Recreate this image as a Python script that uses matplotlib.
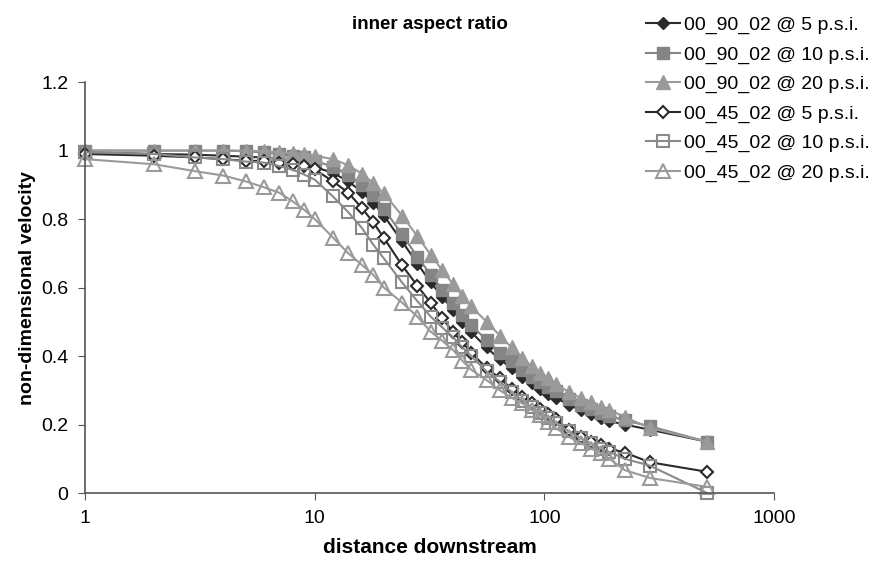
import matplotlib
matplotlib.use('Agg')
import matplotlib.pyplot as plt
from matplotlib.ticker import FixedLocator, NullLocator

plt.rcParams['font.family'] = ['Liberation Sans', 'DejaVu Sans']

# distance downstream (shared by all series)
x = [1, 2, 3, 4, 5, 6, 7, 8, 9, 10, 12, 14, 16, 18, 20, 24, 28, 32, 36, 40, 44, 48,
     56, 64, 72, 80, 88, 96, 104, 112, 128, 144, 160, 176, 192, 224, 288, 512]

v90_5 = [0.995, 0.99, 0.988, 0.985, 0.982, 0.98, 0.975, 0.97, 0.962, 0.952, 0.935, 0.91,
         0.88, 0.848, 0.81, 0.735, 0.67, 0.615, 0.572, 0.535, 0.5, 0.47,
         0.425, 0.39, 0.365, 0.34, 0.32, 0.305, 0.29, 0.278, 0.258, 0.242, 0.23, 0.22,
         0.21, 0.2, 0.185, 0.15]
v90_10 = [1.0, 1.0, 1.0, 1.0, 0.998, 0.995, 0.99, 0.985, 0.98, 0.97, 0.953, 0.93,
          0.9, 0.87, 0.83, 0.755, 0.69, 0.637, 0.594, 0.556, 0.52, 0.49,
          0.447, 0.41, 0.385, 0.36, 0.34, 0.325, 0.31, 0.297, 0.275, 0.258, 0.245, 0.235,
          0.225, 0.212, 0.195, 0.15]
v90_20 = [1.0, 1.0, 1.0, 1.0, 1.0, 0.998, 0.995, 0.992, 0.99, 0.985, 0.975, 0.957,
          0.933, 0.905, 0.875, 0.81, 0.75, 0.695, 0.65, 0.61, 0.575, 0.545,
          0.5, 0.46, 0.425, 0.395, 0.37, 0.35, 0.335, 0.318, 0.295, 0.278, 0.265, 0.252,
          0.243, 0.222, 0.19, 0.15]
v45_5 = [0.99, 0.985, 0.98, 0.975, 0.97, 0.97, 0.965, 0.96, 0.955, 0.945, 0.91, 0.877,
         0.833, 0.79, 0.745, 0.665, 0.605, 0.555, 0.51, 0.47, 0.44, 0.41,
         0.365, 0.335, 0.305, 0.28, 0.262, 0.245, 0.23, 0.215, 0.185, 0.165, 0.15, 0.14,
         0.13, 0.118, 0.09, 0.062]
v45_10 = [0.995, 0.99, 0.98, 0.975, 0.968, 0.965, 0.955, 0.944, 0.93, 0.915, 0.866, 0.82,
          0.775, 0.725, 0.685, 0.615, 0.56, 0.515, 0.483, 0.455, 0.425, 0.4,
          0.355, 0.325, 0.295, 0.27, 0.25, 0.235, 0.22, 0.205, 0.18, 0.16, 0.145, 0.13,
          0.12, 0.1, 0.08, 0.0]
v45_20 = [0.975, 0.96, 0.94, 0.927, 0.91, 0.893, 0.877, 0.852, 0.827, 0.80, 0.746, 0.70,
          0.667, 0.637, 0.60, 0.556, 0.515, 0.471, 0.444, 0.418, 0.386, 0.36,
          0.33, 0.30, 0.278, 0.263, 0.243, 0.228, 0.208, 0.19, 0.164, 0.146, 0.13, 0.117,
          0.1, 0.067, 0.044, 0.018]

labels = ['00_90_02 @ 5 p.s.i.', '00_90_02 @ 10 p.s.i.', '00_90_02 @ 20 p.s.i.',
          '00_45_02 @ 5 p.s.i.', '00_45_02 @ 10 p.s.i.', '00_45_02 @ 20 p.s.i.']

fig = plt.figure(figsize=(8.78, 5.70), dpi=100)
ax = fig.add_axes([0.097, 0.135, 0.7845, 0.721])

ax.plot(x, v90_5, color='#2a2a2a', marker='D', ms=6.5, mfc='#2a2a2a', mec='#2a2a2a', lw=1.5, label=labels[0])
ax.plot(x, v90_10, color='#858585', marker='s', ms=8.5, mfc='#858585', mec='#858585', lw=1.5, label=labels[1])
ax.plot(x, v90_20, color='#9a9a9a', marker='^', ms=9.5, mfc='#9a9a9a', mec='#9a9a9a', lw=1.5, label=labels[2])
ax.plot(x, v45_5, color='#2a2a2a', marker='D', ms=6.5, mfc='white', mec='#2a2a2a', mew=1.5, lw=1.5, label=labels[3])
ax.plot(x, v45_10, color='#8a8a8a', marker='s', ms=8.5, mfc='none', mec='#8a8a8a', mew=1.5, lw=1.5, label=labels[4])
ax.plot(x, v45_20, color='#9a9a9a', marker='^', ms=9.5, mfc='none', mec='#9a9a9a', mew=1.5, lw=1.5, label=labels[5])

ax.set_xscale('log')
ax.set_xlim(1, 1000)
ax.set_ylim(0, 1.2)
ax.xaxis.set_major_locator(FixedLocator([1, 10, 100, 1000]))
ax.xaxis.set_minor_locator(NullLocator())
ax.set_xticklabels(['1', '10', '100', '1000'])
ax.set_yticks([0, 0.2, 0.4, 0.6, 0.8, 1.0, 1.2])
ax.set_yticklabels(['0', '0.2', '0.4', '0.6', '0.8', '1', '1.2'])
ax.tick_params(labelsize=14, direction='out', length=5, color='#555555', pad=7)

for s in ['top', 'right']:
    ax.spines[s].set_visible(False)
for s in ['left', 'bottom']:
    ax.spines[s].set_color('#555555')
    ax.spines[s].set_linewidth(1.2)
for ln in ax.lines:
    ln.set_clip_on(False)

ax.set_title('inner aspect ratio', fontsize=13.5, fontweight='bold', pad=38)
ax.set_xlabel('distance downstream', fontsize=15, fontweight='bold', labelpad=8)
ax.set_ylabel('non-dimensional velocity', fontsize=14, fontweight='bold', labelpad=4)

fig.legend(loc='upper left', bbox_to_anchor=(0.72, 0.995), frameon=False, fontsize=14,
           handlelength=1.75, labelspacing=0.6, handletextpad=0.2, borderaxespad=0.3)

fig.savefig('out.png', dpi=100)
